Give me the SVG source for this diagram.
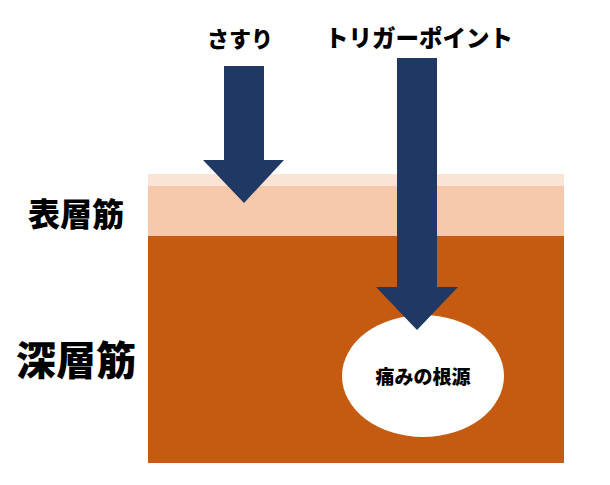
<svg xmlns="http://www.w3.org/2000/svg" width="610" height="485" viewBox="0 0 610 485">
<style>
.t{font-family:"Noto Sans CJK JP","Noto Sans CJK SC",sans-serif;font-weight:900;fill:#000}
.arrow{fill:#203864}
</style>
<rect width="610" height="485" fill="#fff"/>
<g id="layers">
<rect x="148" y="174" width="416" height="12" fill="#FBE4D6"/>
<rect x="148" y="186" width="416" height="50" fill="#F6C9AC"/>
<rect x="148" y="236" width="416" height="227" fill="#C55A11"/>
</g>
<g id="source">
<ellipse cx="423" cy="376" rx="81" ry="61" fill="#fff"/>
<text class="t" x="423" y="384" font-size="19" text-anchor="middle">痛みの根源</text>
</g>
<g id="connectors">
<polygon class="arrow" points="224,66 264,66 264,160 284,160 244,203 203,160 224,160"/>
<polygon class="arrow" points="397,58 437,58 437,287 458,287 417,330 376,287 397,287"/>
</g>
<g id="labels">
<text class="t" x="240" y="47" font-size="22" text-anchor="middle">さすり</text>
<text class="t" x="419" y="47" font-size="23.5" text-anchor="middle">トリガーポイント</text>
<text class="t" x="76" y="226" font-size="32" text-anchor="middle">表層筋</text>
<text class="t" x="76" y="375" font-size="40" text-anchor="middle">深層筋</text>
</g>
</svg>
